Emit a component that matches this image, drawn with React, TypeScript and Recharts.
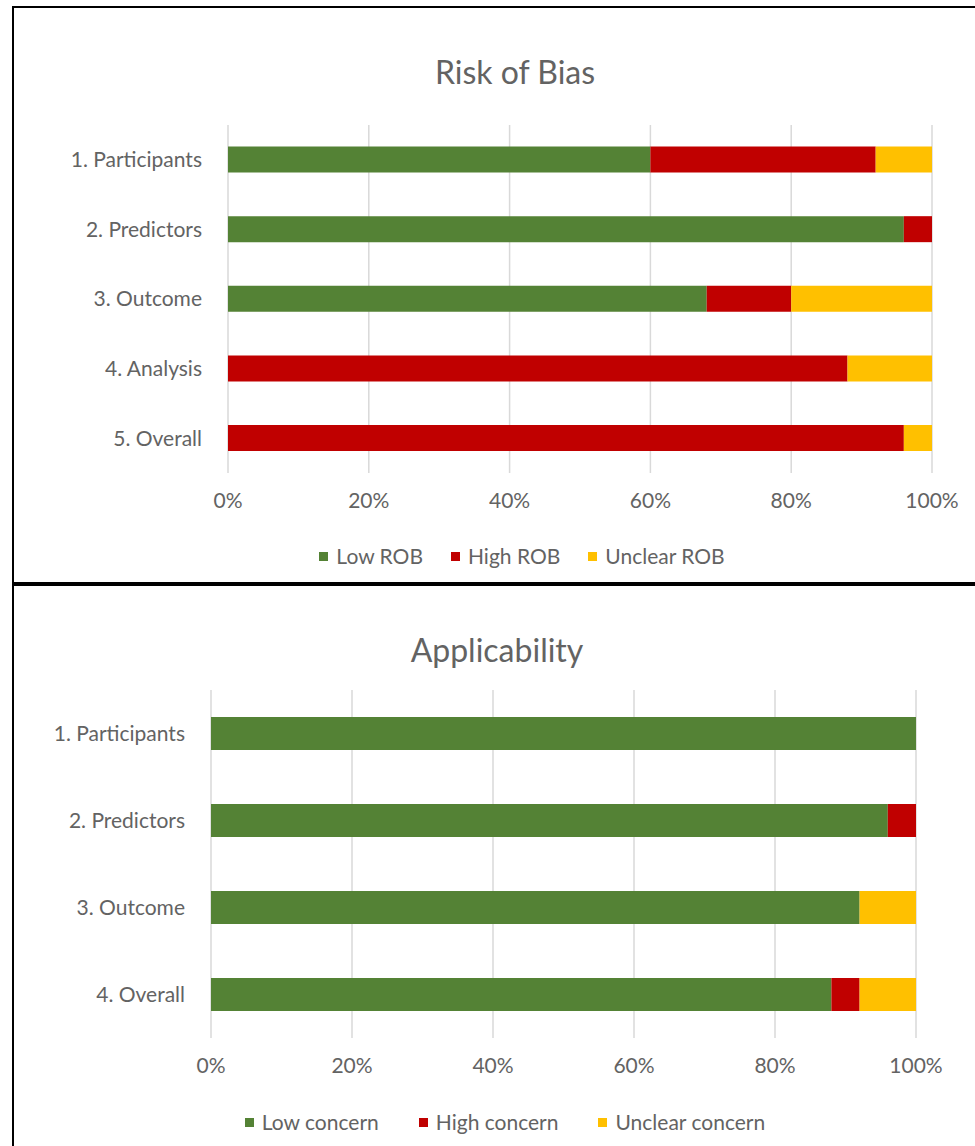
import { BarChart, Bar, XAxis, YAxis, CartesianGrid } from 'recharts'

// Risk of bias, % of studies per domain
const robDomains = ['1. Participants', '2. Predictors', '3. Outcome', '4. Analysis', '5. Overall']
const robLow = [60, 96, 68, 0, 0]
const robHigh = [32, 4, 12, 88, 96]
const robUnclear = [8, 0, 20, 12, 4]

// Applicability concerns, % of studies per domain
const appDomains = ['1. Participants', '2. Predictors', '3. Outcome', '4. Overall']
const appLow = [100, 96, 92, 88]
const appHigh = [0, 4, 0, 4]
const appUnclear = [0, 0, 8, 8]

const percentTicks = [0, 20, 40, 60, 80, 100]

const GREEN = '#548235'
const RED = '#C00000'
const YELLOW = '#FFC000'
const TEXT = '#636363'
const FONT = 'Lato, "Open Sans", sans-serif'

const robData = robDomains.map((name, i) => ({
  name,
  low: robLow[i],
  high: robHigh[i],
  unclear: robUnclear[i],
}))

const appData = appDomains.map((name, i) => ({
  name,
  low: appLow[i],
  high: appHigh[i],
  unclear: appUnclear[i],
}))

interface StackedProps {
  data: { name: string; low: number; high: number; unclear: number }[]
  width: number
  height: number
  top: number
  left: number
  right: number
}

function StackedBars({ data, width, height, top, left, right }: StackedProps) {
  const tick = { fontSize: 21, fill: TEXT, fontFamily: FONT }
  return (
    <BarChart
      width={width}
      height={height}
      data={data}
      layout="vertical"
      margin={{ top, right, bottom: 0, left: 0 }}
      barCategoryGap="31%"
    >
      <CartesianGrid horizontal={false} stroke="#d9d9d9" strokeWidth={1.5} />
      <XAxis
        type="number"
        domain={[0, 100]}
        ticks={percentTicks}
        tickFormatter={v => `${v}%`}
        axisLine={false}
        tickLine={false}
        tick={tick}
        tickMargin={14}
        height={45}
        interval={0}
      />
      <YAxis
        type="category"
        dataKey="name"
        width={left}
        axisLine={false}
        tickLine={false}
        tick={tick}
        tickMargin={20}
      />
      <Bar dataKey="low" stackId="a" fill={GREEN} isAnimationActive={false} />
      <Bar dataKey="high" stackId="a" fill={RED} isAnimationActive={false} />
      <Bar dataKey="unclear" stackId="a" fill={YELLOW} isAnimationActive={false} />
    </BarChart>
  )
}

function LegendRow({ items, center, top, gap }: { items: { label: string; color: string }[]; center: number; top: number; gap: number }) {
  return (
    <div
      style={{
        position: 'absolute',
        left: 0,
        width: center * 2,
        top,
        display: 'flex',
        justifyContent: 'center',
        gap,
        fontFamily: FONT,
        fontSize: 21,
        color: TEXT,
        lineHeight: '24px',
      }}
    >
      {items.map(it => (
        <div key={it.label} style={{ display: 'flex', alignItems: 'center', gap: 8 }}>
          <div style={{ width: 9, height: 9, background: it.color }} />
          <span>{it.label}</span>
        </div>
      ))}
    </div>
  )
}

function Title({ text, center, top }: { text: string; center: number; top: number }) {
  return (
    <div
      style={{
        position: 'absolute',
        left: center - 250,
        width: 500,
        top,
        textAlign: 'center',
        fontFamily: FONT,
        fontSize: 32,
        color: TEXT,
        lineHeight: '40px',
      }}
    >
      {text}
    </div>
  )
}

export default function App() {
  return (
    <div
      style={{
        position: 'absolute',
        left: 0,
        top: 0,
        width: 975,
        height: 1146,
        background: '#fff',
        overflow: 'hidden',
      }}
    >
      {/* panel borders */}
      <div
        style={{
          position: 'absolute',
          left: 12,
          top: 6,
          width: 1000,
          height: 578,
          border: '2px solid #000',
          boxSizing: 'border-box',
        }}
      />
      <div
        style={{
          position: 'absolute',
          left: 12,
          top: 584,
          width: 1000,
          height: 600,
          borderLeft: '2px solid #000',
          borderTop: '2px solid #000',
          boxSizing: 'border-box',
        }}
      />

      <Title text="Risk of Bias" center={515} top={52} />
      <div style={{ position: 'absolute', left: 0, top: 0 }}>
        <StackedBars data={robData} width={975} height={518} top={125} left={228} right={43} />
      </div>
      <LegendRow
        center={522}
        top={544}
        gap={28}
        items={[
          { label: 'Low ROB', color: GREEN },
          { label: 'High ROB', color: RED },
          { label: 'Unclear ROB', color: YELLOW },
        ]}
      />

      <Title text="Applicability" center={497} top={630} />
      <div style={{ position: 'absolute', left: 0, top: 585 }}>
        <StackedBars data={appData} width={975} height={498} top={105} left={211} right={59} />
      </div>
      <LegendRow
        center={505}
        top={1110}
        gap={40}
        items={[
          { label: 'Low concern', color: GREEN },
          { label: 'High concern', color: RED },
          { label: 'Unclear concern', color: YELLOW },
        ]}
      />
    </div>
  )
}
